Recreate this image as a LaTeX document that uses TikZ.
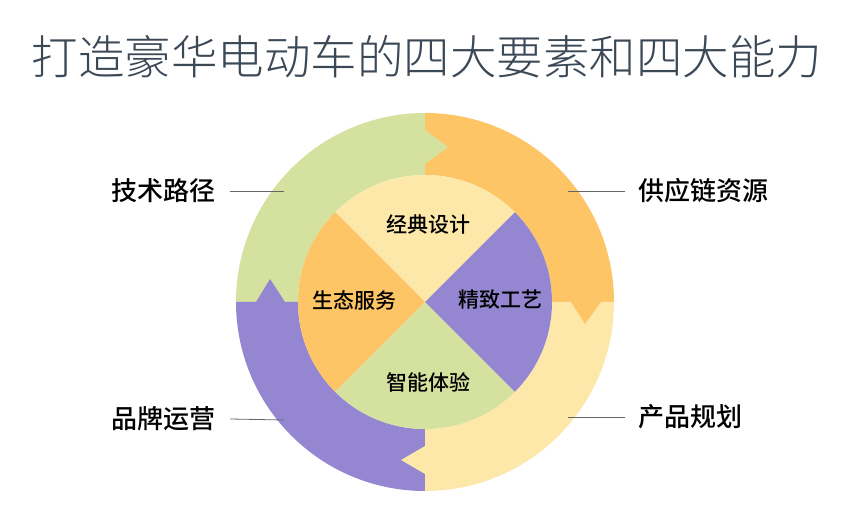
\documentclass[tikz,border=0pt]{standalone}
\usepackage{fontspec}
\newfontfamily\cjk{Noto Sans CJK SC Medium}
\newfontfamily\cjkl{Noto Sans CJK SC Light}
\definecolor{cgreen}{HTML}{D5E29F}
\definecolor{corange}{HTML}{FDC566}
\definecolor{cyellow}{HTML}{FDE8AA}
\definecolor{cpurple}{HTML}{9486D1}
\definecolor{ctitle}{HTML}{3B4856}
\tikzset{outlbl/.style={font=\cjk\fontsize{26}{26}\selectfont, text=black, inner sep=0pt},
 inlbl/.style={font=\cjk\fontsize{21}{21}\selectfont, text=black, inner sep=0pt},
 leader/.style={draw=black!60, line width=0.8pt}}
\begin{document}
\begin{tikzpicture}[x=1pt,y=1pt]
\useasboundingbox[fill=white] (0,0) rectangle (852,506);
\coordinate (C) at (425,204);
\def\R{189}\def\r{127}
\newcommand\seg[3]{\fill[#1] ([shift={(C)}]#2:\R) arc[start angle=#2,end angle=#3,radius=\R] -- ([shift={(C)}]#3:\r) arc[start angle=#3,end angle=#2,radius=\r] -- cycle;}
\seg{corange}{0}{90}
\seg{cgreen}{90}{180}
\seg{cpurple}{180}{270}
\seg{cyellow}{270}{360}
\fill[cgreen] (425,376) -- (448,359) -- (425,342) -- cycle;
\fill[corange] (571,204) -- (585,182) -- (601,204) -- cycle;
\fill[cyellow] (425,60) -- (401,46) -- (425,32) -- cycle;
\fill[cpurple] (256,204) -- (270,227) -- (285,204) -- cycle;
\fill[cyellow] (C) -- ([shift={(C)}]45:\r) arc[start angle=45,end angle=135,radius=\r] -- cycle;
\fill[corange] (C) -- ([shift={(C)}]135:\r) arc[start angle=135,end angle=225,radius=\r] -- cycle;
\fill[cgreen] (C) -- ([shift={(C)}]225:\r) arc[start angle=225,end angle=315,radius=\r] -- cycle;
\fill[cpurple] (C) -- ([shift={(C)}]315:\r) arc[start angle=315,end angle=405,radius=\r] -- cycle;
\node[inlbl] (a) at (428,281) {经典设计};
\node[inlbl] (b) at (500,206) {精致工艺};
\node[inlbl] (c) at (354,206) {生态服务};
\node[inlbl] (d) at (428,124) {智能体验};
\node[font=\cjkl\fontsize{46.5}{46.5}\selectfont, text=ctitle, inner sep=0pt] (t) at (427,449) {打造豪华电动车的四大要素和四大能力};
\node[outlbl, anchor=east] (l1) at (216,315) {技术路径};
\node[outlbl, anchor=east] (l2) at (216,87) {品牌运营};
\node[outlbl, anchor=west] (r1) at (638,315) {供应链资源};
\node[outlbl, anchor=west] (r2) at (638,89) {产品规划};
\coordinate (p1) at (284,315); \coordinate (p2) at (284,86);
\coordinate (q1) at (568,315); \coordinate (q2) at (568,89);
\draw[leader] ([xshift=14pt]l1.east) -- (p1);
\draw[leader] ([xshift=14pt]l2.east) -- (p2);
\draw[leader] ([xshift=-13pt]r1.west) -- (q1);
\draw[leader] ([xshift=-13pt]r2.west) -- (q2);
\end{tikzpicture}
\end{document}
